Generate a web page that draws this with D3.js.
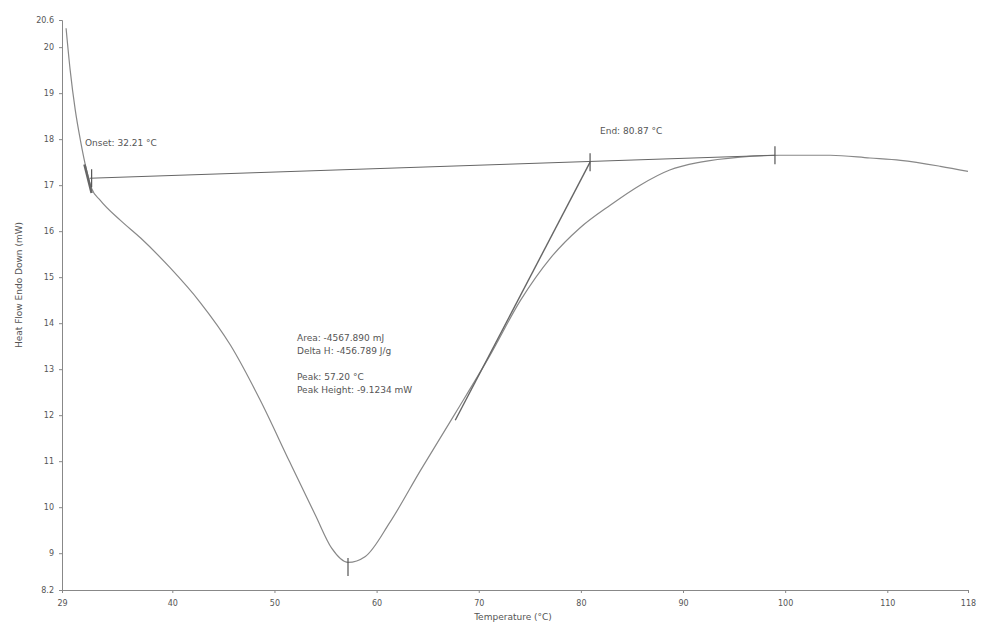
<!DOCTYPE html>
<html>
<head>
<meta charset="utf-8">
<script src="https://cdn.jsdelivr.net/npm/d3@7"></script>
<style>
  body { margin: 0; background: #fff; }
  svg text { font-family: "DejaVu Sans", sans-serif; fill: #555; }
</style>
</head>
<body>
<div id="chart"></div>
<script>
// DSC curve, temperature (°C) vs heat flow (mW)
const temps = [29.6, 30.0, 30.5, 31.0, 31.6, 32.1, 32.95, 34.9, 36.9, 39.8, 42.7, 45.7, 48.6, 51.5, 54.0, 55.6,
               57.2, 58.9, 61.3, 64.3, 67.7, 71.1, 74.1, 77.0, 79.9, 82.9, 85.8, 88.7, 91.7, 95.6, 99.5, 104.4,
               108.3, 111.3, 115.2, 117.9];
const heatFlow = [20.41, 19.50, 18.63, 17.98, 17.33, 16.93, 16.67, 16.24, 15.85, 15.20, 14.46, 13.52, 12.33, 10.98, 9.83, 9.11,
                  8.80, 8.93, 9.67, 10.80, 12.04, 13.30, 14.50, 15.41, 16.07, 16.57, 17.00, 17.33, 17.50, 17.61, 17.65, 17.65,
                  17.59, 17.54, 17.41, 17.30];

const baselineT = [31.9, 99.0];
const baselineH = [17.15, 17.65];
const tangentT = [67.7, 80.9];
const tangentH = [11.89, 17.50];
const onsetTanT = [31.4, 32.1];
const onsetTanH = [17.45, 16.83];

const markerT = [32.1, 80.9, 99.0, 57.2];
const markerH = [17.15, 17.50, 17.65, 8.70];

const xTicks = [29.2, 40, 50, 60, 70, 80, 90, 100, 110, 117.9];
const yTicks = [8.2, 9, 10, 11, 12, 13, 14, 15, 16, 17, 18, 19, 20, 20.59];

const onsetLabel = "Onset: 32.21 °C";
const endLabel = "End: 80.87 °C";
const peakLines = ["Area: -4567.890 mJ", "Delta H: -456.789 J/g", "", "Peak: 57.20 °C", "Peak Height: -9.1234 mW"];

const width = 992, height = 625;
const margin = { left: 62, right: 24, top: 20, bottom: 35 };

const svg = d3.select("#chart").append("svg")
    .attr("width", width)
    .attr("height", height);

const x = d3.scaleLinear().domain([29.2, 117.9]).range([margin.left, width - margin.right]);
const y = d3.scaleLinear().domain([8.2, 20.59]).range([height - margin.bottom, margin.top]);

// Axes
const xAxis = svg.append("g")
    .attr("transform", `translate(0,${height - margin.bottom})`)
    .call(d3.axisBottom(x).tickValues(xTicks).tickSize(3).tickFormat(d3.format(".0f")));
const yAxis = svg.append("g")
    .attr("transform", `translate(${margin.left},0)`)
    .call(d3.axisLeft(y).tickValues(yTicks).tickSize(3)
        .tickFormat(d => Number.isInteger(d) ? d : d3.format(".1f")(d)));

[xAxis, yAxis].forEach(a => {
    a.selectAll("path, line").attr("stroke", "#888");
    a.selectAll("text").style("font-size", "8px").attr("fill", "#555");
});
yAxis.selectAll("text").attr("x", -8);
xAxis.selectAll("text").attr("y", 10);

// Axis titles
svg.append("text")
    .attr("x", 513).attr("y", 620)
    .attr("text-anchor", "middle")
    .style("font-size", "9px")
    .text("Temperature (°C)");
svg.append("text")
    .attr("transform", "translate(22,285) rotate(-90)")
    .attr("text-anchor", "middle")
    .style("font-size", "9px")
    .text("Heat Flow Endo Down (mW)");

const line = d3.line().x(d => x(d[0])).y(d => y(d[1]));

// Main curve
svg.append("path")
    .datum(d3.zip(temps, heatFlow))
    .attr("d", d3.line().curve(d3.curveMonotoneX).x(d => x(d[0])).y(d => y(d[1])))
    .attr("fill", "none")
    .attr("stroke", "#888")
    .attr("stroke-width", 1.2);

// Baseline and tangents
[[baselineT, baselineH, 1], [tangentT, tangentH, 1.4], [onsetTanT, onsetTanH, 2.5]].forEach(([t, h, w]) => {
    svg.append("path")
        .datum(d3.zip(t, h))
        .attr("d", line)
        .attr("fill", "none")
        .attr("stroke", "#666")
        .attr("stroke-width", w);
});

// Event markers
svg.append("g")
    .selectAll("line")
    .data(d3.zip(markerT, markerH))
    .enter()
    .append("line")
    .attr("x1", d => x(d[0]))
    .attr("x2", d => x(d[0]))
    .attr("y1", d => y(d[1]) - 9)
    .attr("y2", d => y(d[1]) + 9)
    .attr("stroke", "#555")
    .attr("stroke-width", 1.2);

// Annotations
svg.append("text").attr("x", 85).attr("y", 146).style("font-size", "9px").text(onsetLabel);
svg.append("text").attr("x", 600).attr("y", 134).style("font-size", "9px").text(endLabel);
svg.append("g")
    .selectAll("text")
    .data(peakLines)
    .enter()
    .append("text")
    .attr("x", 297)
    .attr("y", (d, i) => 341 + i * 13)
    .style("font-size", "9px")
    .text(d => d);
</script>
</body>
</html>
